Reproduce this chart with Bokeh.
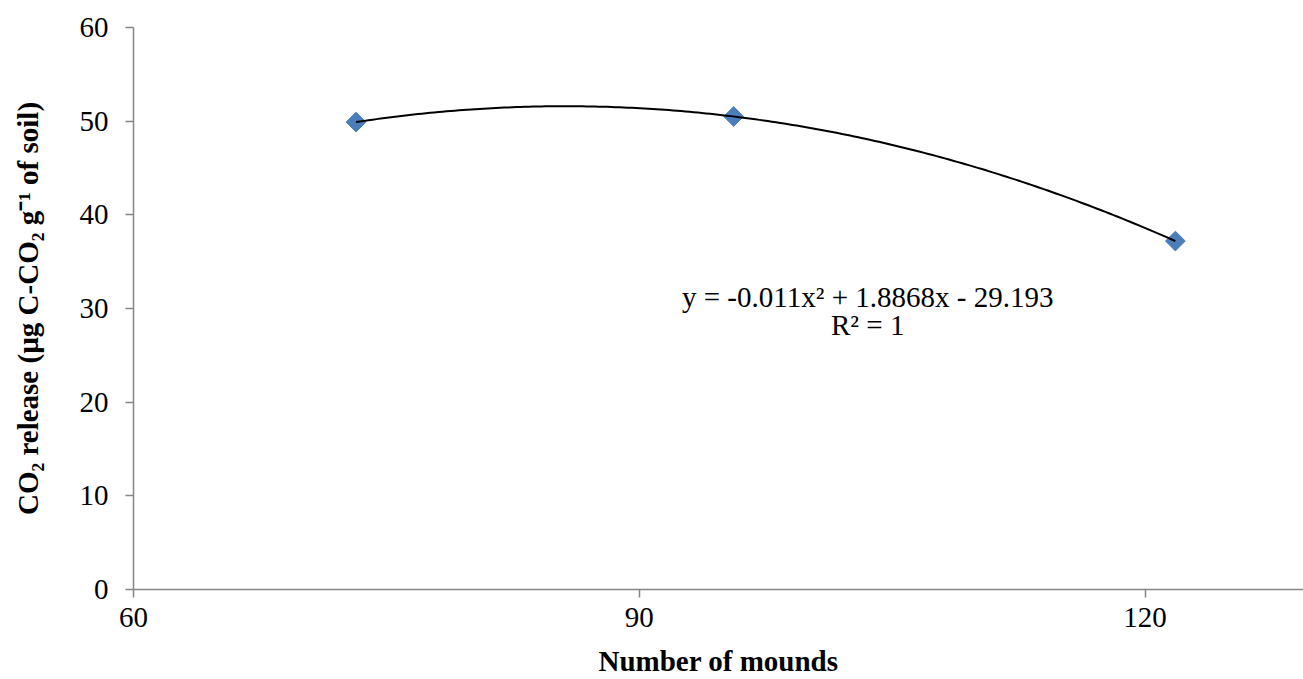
import numpy as np
from bokeh.plotting import figure
from bokeh.models import ColumnDataSource, FixedTicker, Range1d, Label
from bokeh.embed import file_html
from bokeh.resources import INLINE

# Data
mounds = [73.2, 95.6, 121.8]
co2_release = [49.9, 50.5, 37.2]
x_ticks = [60, 90, 120]
y_ticks = [0, 10, 20, 30, 40, 50, 60]
equation_text = "y = -0.011x\u00b2 + 1.8868x - 29.193"
r2_text = "R\u00b2 = 1"
x_title = "Number of mounds"
y_title = "CO\u2082 release (\u00b5g C-CO\u2082 g\u207b\u00b9 of soil)"

# Polynomial (order 2) trendline through the points
coef = np.polyfit(mounds, co2_release, 2)
xs = np.linspace(min(mounds), max(mounds), 200)
ys = np.polyval(coef, xs)

SERIF = "Liberation Serif"
FS = "29px"
p = figure(width=1303, height=679, output_backend="svg", toolbar_location=None,
           x_range=Range1d(60, 129.4), y_range=Range1d(0, 60),
           min_border_left=133, min_border_right=0, min_border_top=27, min_border_bottom=88)
p.outline_line_color = None
p.xgrid.visible = False
p.ygrid.visible = False
p.background_fill_color = "white"
p.border_fill_color = "white"

for ax in (p.xaxis[0], p.yaxis[0]):
    ax.axis_line_color = "#868686"
    ax.axis_line_width = 1.5
    ax.major_tick_line_color = "#868686"
    ax.major_tick_line_width = 1.5
    ax.major_tick_out = 8
    ax.major_tick_in = 0
    ax.minor_tick_line_color = None
    ax.major_label_text_font = SERIF
    ax.major_label_text_font_size = FS
    ax.major_label_text_color = "black"
    ax.axis_label_text_font = SERIF
    ax.axis_label_text_font_size = FS
    ax.axis_label_text_font_style = "bold"
    ax.axis_label_text_color = "black"

p.xaxis.ticker = FixedTicker(ticks=x_ticks)
p.yaxis.ticker = FixedTicker(ticks=y_ticks)
p.xaxis.axis_label = x_title
p.yaxis.axis_label = y_title
p.yaxis.major_label_standoff = 17
p.yaxis.axis_label_standoff = 33
p.xaxis.major_label_standoff = 10
p.xaxis.axis_label_standoff = 15

src = ColumnDataSource(dict(x=mounds, y=co2_release))
p.scatter("x", "y", source=src, marker="square", angle=np.pi / 4, size=14,
          fill_color="#4A7EBB", line_color="#4A7EBB")
p.line(xs, ys, line_color="black", line_width=2)

p.add_layout(Label(x=103.55, y=31.2, text=equation_text, text_align="center",
                   text_baseline="middle", text_font=SERIF, text_font_size=FS,
                   text_color="black"))
p.add_layout(Label(x=103.55, y=28.2, text=r2_text, text_align="center",
                   text_baseline="middle", text_font=SERIF, text_font_size=FS,
                   text_color="black"))

open("out.html", "w").write(file_html(p, INLINE))
